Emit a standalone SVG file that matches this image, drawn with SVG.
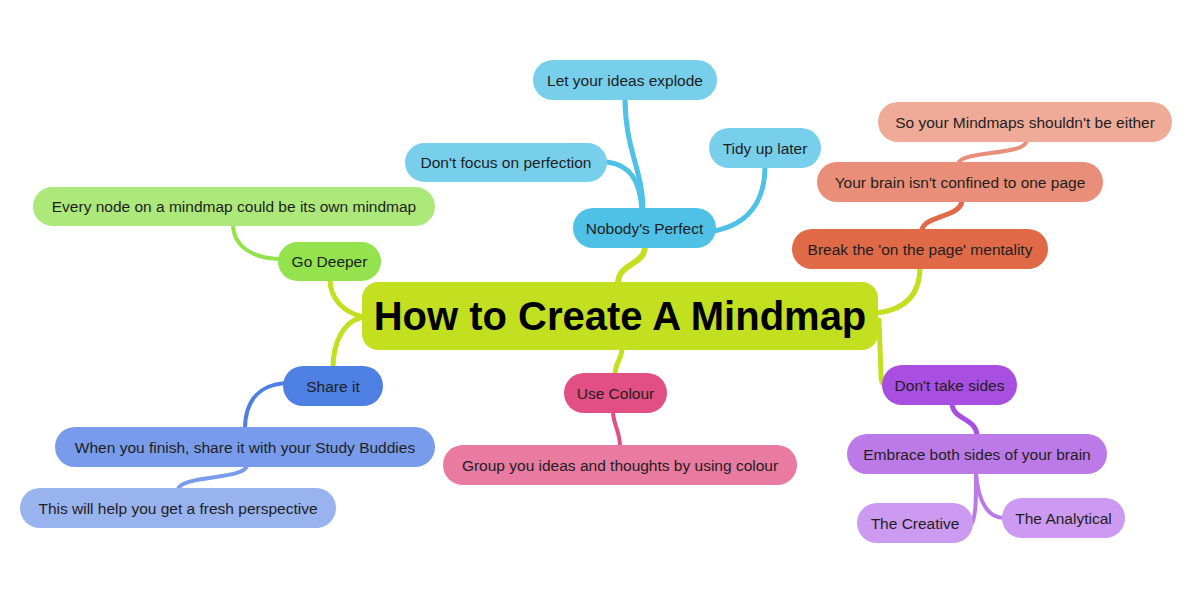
<svg xmlns="http://www.w3.org/2000/svg" width="1202" height="605" viewBox="0 0 1202 605">
<style>
.n text{font-family:"Liberation Sans",Arial,sans-serif;font-size:15.5px;fill:#1e1e1e;text-anchor:middle}
.c path{fill:none;stroke-linecap:round}
.t{font-family:"Liberation Sans",Arial,sans-serif;font-size:40px;font-weight:bold;fill:#000;text-anchor:middle}
</style>
<rect width="1202" height="605" fill="#fff"/>
<g class="c" id="connectors">
<path d="M618,284 C618,262 645,266 645,246" stroke="#c2e01f" stroke-width="6"/>
<path d="M360,316 C345,312 330,300 330,279" stroke="#c2e01f" stroke-width="5"/>
<path d="M360,318 C345,322 333,340 333,368" stroke="#c2e01f" stroke-width="5"/>
<path d="M622,348 C622,360 615,362 615,375" stroke="#c2e01f" stroke-width="5"/>
<path d="M876,313 C905,310 920,295 920,267" stroke="#c2e01f" stroke-width="5"/>
<path d="M879,320 L881,375 C881,382 883,385 886,385" stroke="#c2e01f" stroke-width="5"/>
<path d="M643,210 C643,170 625,150 625,98" stroke="#4fc1e6" stroke-width="5"/>
<path d="M607,162 C630,165 640,180 642,210" stroke="#4fc1e6" stroke-width="5"/>
<path d="M714,231 C745,225 765,205 765,166" stroke="#4fc1e6" stroke-width="5"/>
<path d="M233,224 C233,245 250,258 280,259" stroke="#93e24e" stroke-width="4"/>
<path d="M285,383 C260,385 245,400 245,429" stroke="#4e7fe2" stroke-width="4"/>
<path d="M247,465 C247,480 178,475 178,490" stroke="#789ceb" stroke-width="4"/>
<path d="M613,411 C613,425 620,430 620,447" stroke="#e24f82" stroke-width="4"/>
<path d="M922,231 C922,215 962,218 962,200" stroke="#e06a48" stroke-width="5"/>
<path d="M958,164 C960,150 1027,156 1027,140" stroke="#e98e78" stroke-width="4"/>
<path d="M952,403 C952,420 977,418 977,436" stroke="#a84ee0" stroke-width="5"/>
<path d="M976,472 C976,500 976,515 972,523" stroke="#bc7ae8" stroke-width="4"/>
<path d="M976,472 C978,505 990,518 1004,518" stroke="#bc7ae8" stroke-width="4"/>
</g>
<g id="central"><rect x="362" y="282" width="516" height="68" rx="16" fill="#c2e01f"/><text class="t" x="620" y="330">How to Create A Mindmap</text></g>
<g class="n" id="nobody"><rect x="573" y="208" width="143" height="40" rx="20" fill="#4fc1e6"/><text x="644.5" y="233.5">Nobody's Perfect</text></g>
<g class="n" id="explode"><rect x="533" y="60" width="184" height="40" rx="20" fill="#78cfec"/><text x="625" y="85.5">Let your ideas explode</text></g>
<g class="n" id="perfection"><rect x="405" y="143" width="202" height="39" rx="19.5" fill="#78cfec"/><text x="506" y="168">Don't focus on perfection</text></g>
<g class="n" id="tidy"><rect x="709" y="128" width="112" height="40" rx="20" fill="#78cfec"/><text x="765" y="153.5">Tidy up later</text></g>
<g class="n" id="break"><rect x="792" y="229" width="256" height="40" rx="20" fill="#e06a48"/><text x="920" y="254.5">Break the 'on the page' mentality</text></g>
<g class="n" id="brain"><rect x="817" y="162" width="286" height="40" rx="20" fill="#e98e78"/><text x="960" y="187.5">Your brain isn't confined to one page</text></g>
<g class="n" id="either"><rect x="878" y="102" width="294" height="40" rx="20" fill="#f0aa98"/><text x="1025" y="127.5">So your Mindmaps shouldn't be either</text></g>
<g class="n" id="sides"><rect x="882" y="365" width="135" height="40" rx="20" fill="#a84ee0"/><text x="949.5" y="390.5">Don't take sides</text></g>
<g class="n" id="embrace"><rect x="847" y="434" width="260" height="40" rx="20" fill="#bc7ae8"/><text x="977" y="459.5">Embrace both sides of your brain</text></g>
<g class="n" id="creative"><rect x="857" y="503" width="116" height="40" rx="20" fill="#cc9af0"/><text x="915" y="528.5">The Creative</text></g>
<g class="n" id="analytical"><rect x="1002" y="498" width="123" height="40" rx="20" fill="#cc9af0"/><text x="1063.5" y="523.5">The Analytical</text></g>
<g class="n" id="everynode"><rect x="33" y="187" width="402" height="39" rx="19.5" fill="#ade87a"/><text x="234" y="212">Every node on a mindmap could be its own mindmap</text></g>
<g class="n" id="deeper"><rect x="278" y="242" width="103" height="39" rx="19.5" fill="#93e24e"/><text x="329.5" y="267">Go Deeper</text></g>
<g class="n" id="share"><rect x="283" y="366" width="100" height="40" rx="20" fill="#4e7fe2"/><text x="333" y="391.5">Share it</text></g>
<g class="n" id="finish"><rect x="55" y="427" width="380" height="40" rx="20" fill="#789ceb"/><text x="245" y="452.5">When you finish, share it with your Study Buddies</text></g>
<g class="n" id="fresh"><rect x="20" y="488" width="316" height="40" rx="20" fill="#98b3ee"/><text x="178" y="513.5">This will help you get a fresh perspective</text></g>
<g class="n" id="colour"><rect x="564" y="373" width="103" height="40" rx="20" fill="#e24f82"/><text x="615.5" y="398.5">Use Colour</text></g>
<g class="n" id="group"><rect x="443" y="445" width="354" height="40" rx="20" fill="#e97aa0"/><text x="620" y="470.5">Group you ideas and thoughts by using colour</text></g>
</svg>
